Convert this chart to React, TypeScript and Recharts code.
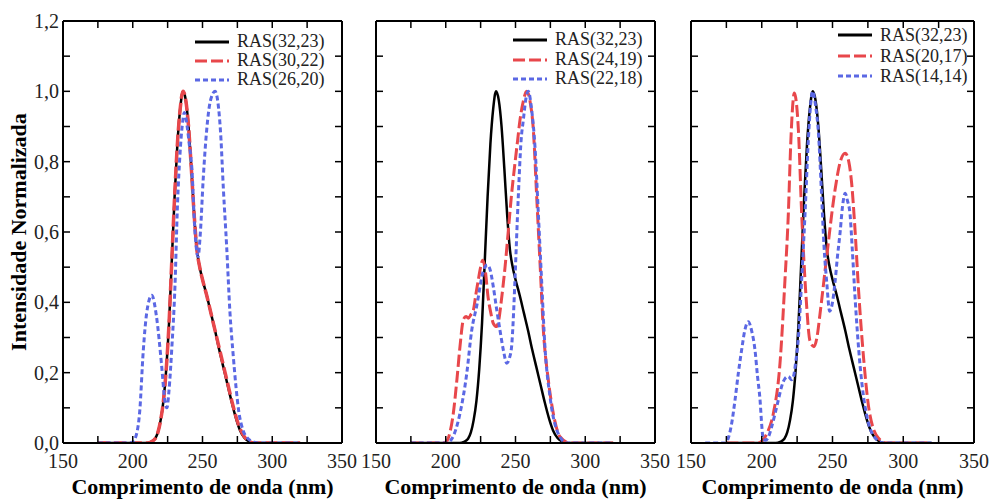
import { LineChart, Line, XAxis, YAxis, Legend } from 'recharts';

type Pt = [number, number];

// wavelength (nm), normalized intensity
const ras3223: Pt[] = [
  [175, 0], [200, 0], [210, 0], [213, 0.003], [216, 0.012], [218, 0.03], [220, 0.065], [222, 0.12],
  [224, 0.21], [226, 0.34], [228, 0.52], [230, 0.7], [232, 0.85], [234, 0.95], [236, 1.0], [238, 0.975],
  [240, 0.9], [242, 0.78], [244, 0.65], [246, 0.55], [248, 0.5], [250, 0.465], [253, 0.42], [256, 0.37],
  [259, 0.32], [262, 0.265], [265, 0.215], [268, 0.165], [271, 0.115], [274, 0.07], [277, 0.035],
  [280, 0.015], [283, 0.005], [287, 0], [300, 0], [320, 0],
];

const ras3022: Pt[] = [
  [175, 0], [200, 0], [210, 0], [213, 0.003], [216, 0.012], [218, 0.03], [220, 0.065], [222, 0.12],
  [224, 0.21], [226, 0.34], [228, 0.52], [230, 0.7], [232, 0.85], [234, 0.95], [236, 1.0], [238, 0.975],
  [240, 0.9], [242, 0.78], [244, 0.65], [246, 0.55], [248, 0.5], [250, 0.465], [253, 0.42], [256, 0.37],
  [259, 0.32], [262, 0.27], [265, 0.22], [268, 0.17], [271, 0.12], [274, 0.075], [277, 0.04],
  [280, 0.018], [283, 0.006], [287, 0], [300, 0], [320, 0],
];

const ras2620: Pt[] = [
  [175, 0], [198, 0], [200, 0.003], [203, 0.03], [205, 0.09], [207.5, 0.26], [210, 0.37], [213.6, 0.42],
  [217, 0.36], [220.7, 0.22], [223, 0.12], [224.5, 0.1], [226, 0.15], [228, 0.27], [230.3, 0.45],
  [232, 0.67], [234, 0.83], [236, 0.92], [237, 0.94], [239, 0.9], [240.5, 0.85], [242.3, 0.785],
  [244.6, 0.6], [246.8, 0.53], [248.5, 0.6], [250.5, 0.75], [253, 0.89], [255.5, 0.97], [259, 1.0],
  [261, 0.97], [263, 0.88], [265, 0.72], [267.3, 0.56], [269.7, 0.37], [272, 0.25], [274, 0.16],
  [276, 0.09], [279, 0.037], [282, 0.015], [286, 0.004], [290, 0], [320, 0],
];

const ras2419: Pt[] = [
  [175, 0], [198, 0], [200.6, 0.005], [203, 0.03], [205.4, 0.084], [208, 0.18], [210.2, 0.274],
  [212.6, 0.35], [214.5, 0.36], [216.2, 0.355], [218, 0.365], [219.8, 0.378], [221.5, 0.42],
  [223.3, 0.463], [225, 0.5], [226.5, 0.52], [228, 0.5], [230.5, 0.41], [232.3, 0.37], [234.1, 0.34],
  [236.5, 0.331], [238, 0.35], [240, 0.41], [242.5, 0.5], [244.9, 0.606], [247, 0.7], [249.6, 0.795],
  [251.5, 0.86], [253.2, 0.918], [255.5, 0.97], [258, 1.0], [260.5, 0.97], [262.8, 0.89], [265.2, 0.7],
  [267.6, 0.51], [270, 0.32], [273.5, 0.18], [277.1, 0.084], [281.9, 0.018], [289, 0], [320, 0],
];

const ras2218: Pt[] = [
  [175, 0], [201, 0], [203, 0.005], [206, 0.025], [210.2, 0.084], [215, 0.196], [218.6, 0.32],
  [222.2, 0.39], [227, 0.49], [229.8, 0.506], [232, 0.49], [234.1, 0.444], [236.5, 0.38], [238.9, 0.32],
  [241.5, 0.26], [243.7, 0.227], [245.5, 0.24], [247.2, 0.274], [248.5, 0.36], [249.6, 0.463],
  [252, 0.7], [254, 0.86], [255.6, 0.918], [257.5, 0.98], [259.2, 1.0], [261.5, 0.95], [264, 0.84],
  [266.4, 0.65], [268.7, 0.463], [271.1, 0.274], [274.7, 0.133], [279.5, 0.038], [286.7, 0], [320, 0],
];

const ras2017: Pt[] = [
  [175, 0], [197, 0], [200, 0.005], [204, 0.03], [208.2, 0.084], [212.9, 0.227], [216.4, 0.463],
  [218.8, 0.653], [220.4, 0.842], [221.7, 0.95], [223, 0.995], [224.4, 0.97], [225.9, 0.89],
  [228.2, 0.653], [231.3, 0.416], [234.1, 0.29], [236.9, 0.274], [239, 0.3], [241.2, 0.368],
  [245.9, 0.53], [251.8, 0.72], [255.5, 0.8], [259, 0.824], [261.5, 0.8], [263.5, 0.74],
  [265.7, 0.62], [268.5, 0.43], [272, 0.24], [276, 0.09], [282.4, 0.014], [288.3, 0], [320, 0],
];

const ras1414: Pt[] = [
  [160, 0], [174, 0], [176, 0.01], [178.5, 0.05], [181.1, 0.122], [183.5, 0.2], [185.8, 0.265],
  [188, 0.32], [190.5, 0.345], [192.8, 0.32], [195.2, 0.265], [197, 0.19], [198.8, 0.122], [200, 0.05],
  [201.1, 0.01], [203, 0.008], [205, 0.02], [207, 0.046], [209.5, 0.085], [211.7, 0.122], [214, 0.16],
  [216.4, 0.183], [218.8, 0.189], [221.1, 0.18], [222.5, 0.19], [224, 0.23], [225.9, 0.3],
  [228.2, 0.463], [230.6, 0.653], [232.9, 0.86], [234.5, 0.96], [236, 1.0], [238, 0.96], [240, 0.885],
  [242.4, 0.695], [244, 0.56], [245.9, 0.458], [248, 0.375], [250, 0.4], [251.8, 0.458], [253.5, 0.53],
  [255.4, 0.6], [257, 0.67], [258.9, 0.71], [260.5, 0.69], [262.4, 0.65], [264, 0.55], [266, 0.41],
  [269.5, 0.22], [272, 0.13], [274.2, 0.078], [278.9, 0.021], [286, 0], [320, 0],
];

const xTicks = [150, 175, 200, 225, 250, 275, 300, 325, 350];
const yTicks = [0, 0.1, 0.2, 0.3, 0.4, 0.5, 0.6, 0.7, 0.8, 0.9, 1.0, 1.1, 1.2];

const SERIF = '"Liberation Serif", "Times New Roman", serif';
const BLACK = '#000000';
const RED = '#e8474b';
const BLUE = '#5b68e4';
const TICK = 7;

const toPoints = (arr: Pt[]) => arr.map(([w, v]) => ({ w, v }));

interface Series {
  name: string;
  data: Pt[];
  color: string;
  dash?: string;
  width: number;
}

const BottomTick = (props: any) => {
  const { x, y, payload } = props;
  return (
    <g>
      <line x1={x} y1={y} x2={x} y2={y - TICK} stroke="#000" strokeWidth={1.5} />
      {payload.value % 50 === 0 && (
        <text x={x} y={y + 25} textAnchor="middle" fontFamily={SERIF} fontSize={20} fill="#222">
          {payload.value}
        </text>
      )}
    </g>
  );
};

const TopTick = (props: any) => (
  <line x1={props.x} y1={props.y} x2={props.x} y2={props.y + TICK} stroke="#000" strokeWidth={1.5} />
);

const makeLeftTick = (showLabel: boolean) => (props: any) => {
  const { x, y, payload } = props;
  const major = Math.round(payload.value * 10) % 2 === 0;
  return (
    <g>
      <line x1={x} y1={y} x2={x + TICK} y2={y} stroke="#000" strokeWidth={1.5} />
      {showLabel && major && (
        <text x={x - 4} y={y} dy="0.35em" textAnchor="end" fontFamily={SERIF} fontSize={20} fill="#222">
          {payload.value.toFixed(1).replace('.', ',')}
        </text>
      )}
    </g>
  );
};

const RightTick = (props: any) => (
  <line x1={props.x} y1={props.y} x2={props.x - TICK} y2={props.y} stroke="#000" strokeWidth={1.5} />
);

const LegendBox = ({ series, rowHeight }: { series: Series[]; rowHeight: number }) => (
  <div style={{ fontFamily: SERIF, fontSize: 18, color: '#222', lineHeight: `${rowHeight}px` }}>
    {series.map((s) => (
      <div key={s.name} style={{ display: 'flex', alignItems: 'center', height: rowHeight }}>
        <svg width={34} height={6} style={{ marginRight: 8 }}>
          <line x1={0} y1={3} x2={34} y2={3} stroke={s.color} strokeWidth={3} strokeDasharray={s.dash} />
        </svg>
        <span>{s.name}</span>
      </div>
    ))}
  </div>
);

interface PanelProps {
  left: number;
  width: number;
  yAxisWidth: number;
  rightMargin: number;
  showYLabels: boolean;
  series: Series[];
  legendLeft: number;
  legendTop: number;
  legendRow: number;
}

function Panel({ left, width, yAxisWidth, rightMargin, showYLabels, series, legendLeft, legendTop, legendRow }: PanelProps) {
  const plotLeft = left + yAxisWidth;
  const plotRight = left + width - rightMargin - 1;
  return (
    <>
      <div style={{ position: 'absolute', left, top: 0 }}>
        <LineChart width={width} height={499} margin={{ top: 20, right: rightMargin, bottom: 0, left: 0 }}>
          <XAxis
            dataKey="w"
            type="number"
            domain={[150, 350]}
            ticks={xTicks}
            interval={0}
            allowDataOverflow
            height={56}
            tickSize={0}
            tickMargin={0}
            tickLine={false}
            axisLine={{ stroke: '#000', strokeWidth: 2 }}
            tick={BottomTick}
          />
          <XAxis
            xAxisId="top"
            orientation="top"
            dataKey="w"
            type="number"
            domain={[150, 350]}
            ticks={xTicks}
            interval={0}
            allowDataOverflow
            height={1}
            tickSize={0}
            tickMargin={0}
            tickLine={false}
            axisLine={{ stroke: '#000', strokeWidth: 2 }}
            tick={TopTick}
          />
          <YAxis
            type="number"
            domain={[0, 1.2]}
            ticks={yTicks}
            interval={0}
            allowDataOverflow
            width={yAxisWidth}
            tickSize={0}
            tickMargin={0}
            tickLine={false}
            axisLine={{ stroke: '#000', strokeWidth: 2 }}
            tick={makeLeftTick(showYLabels)}
          />
          <YAxis
            yAxisId="right"
            orientation="right"
            type="number"
            domain={[0, 1.2]}
            ticks={yTicks}
            interval={0}
            allowDataOverflow
            width={1}
            tickSize={0}
            tickMargin={0}
            tickLine={false}
            axisLine={{ stroke: '#000', strokeWidth: 2 }}
            tick={RightTick}
          />
          <Legend
            layout="vertical"
            align="center"
            verticalAlign="middle"
            wrapperStyle={{ left: legendLeft, top: legendTop, width: 'auto' }}
            content={() => <LegendBox series={series} rowHeight={legendRow} />}
          />
          {series.map((s) => (
            <Line
              key={s.name}
              data={toPoints(s.data)}
              dataKey="v"
              type="monotone"
              stroke={s.color}
              strokeWidth={s.width}
              strokeDasharray={s.dash}
              dot={false}
              activeDot={false}
              isAnimationActive={false}
            />
          ))}
        </LineChart>
      </div>
      <div
        style={{
          position: 'absolute',
          left: (plotLeft + plotRight) / 2 - 200,
          width: 400,
          top: 476,
          textAlign: 'center',
          fontFamily: SERIF,
          fontWeight: 'bold',
          fontSize: 22,
          lineHeight: '22px',
          color: '#000',
        }}
      >
        Comprimento de onda (nm)
      </div>
    </>
  );
}

const panel1: Series[] = [
  { name: 'RAS(32,23)', data: ras3223, color: BLACK, width: 2.5 },
  { name: 'RAS(30,22)', data: ras3022, color: RED, dash: '12 4', width: 3.5 },
  { name: 'RAS(26,20)', data: ras2620, color: BLUE, dash: '5 3', width: 3 },
];
const panel2: Series[] = [
  { name: 'RAS(32,23)', data: ras3223, color: BLACK, width: 2.5 },
  { name: 'RAS(24,19)', data: ras2419, color: RED, dash: '12 4', width: 3 },
  { name: 'RAS(22,18)', data: ras2218, color: BLUE, dash: '5 3', width: 3 },
];
const panel3: Series[] = [
  { name: 'RAS(32,23)', data: ras3223, color: BLACK, width: 2.5 },
  { name: 'RAS(20,17)', data: ras2017, color: RED, dash: '12 4', width: 3 },
  { name: 'RAS(14,14)', data: ras1414, color: BLUE, dash: '5 3', width: 3 },
];

export default function App() {
  return (
    <div style={{ position: 'absolute', left: 0, top: 0, width: 992, height: 499, background: '#fff' }}>
      <Panel left={0} width={362} yAxisWidth={63} rightMargin={19} showYLabels series={panel1}
        legendLeft={195} legendTop={32} legendRow={19.2} />
      <Panel left={352} width={323} yAxisWidth={24} rightMargin={19} showYLabels={false} series={panel2}
        legendLeft={161} legendTop={30} legendRow={19.7} />
      <Panel left={665} width={327} yAxisWidth={26} rightMargin={17} showYLabels={false} series={panel3}
        legendLeft={173} legendTop={25} legendRow={20.5} />
      <div
        style={{
          position: 'absolute',
          left: 19,
          top: 232,
          transform: 'translate(-50%, -50%) rotate(-90deg)',
          whiteSpace: 'nowrap',
          fontFamily: SERIF,
          fontWeight: 'bold',
          fontSize: 22,
          lineHeight: '22px',
          color: '#000',
        }}
      >
        Intensidade Normalizada
      </div>
    </div>
  );
}
